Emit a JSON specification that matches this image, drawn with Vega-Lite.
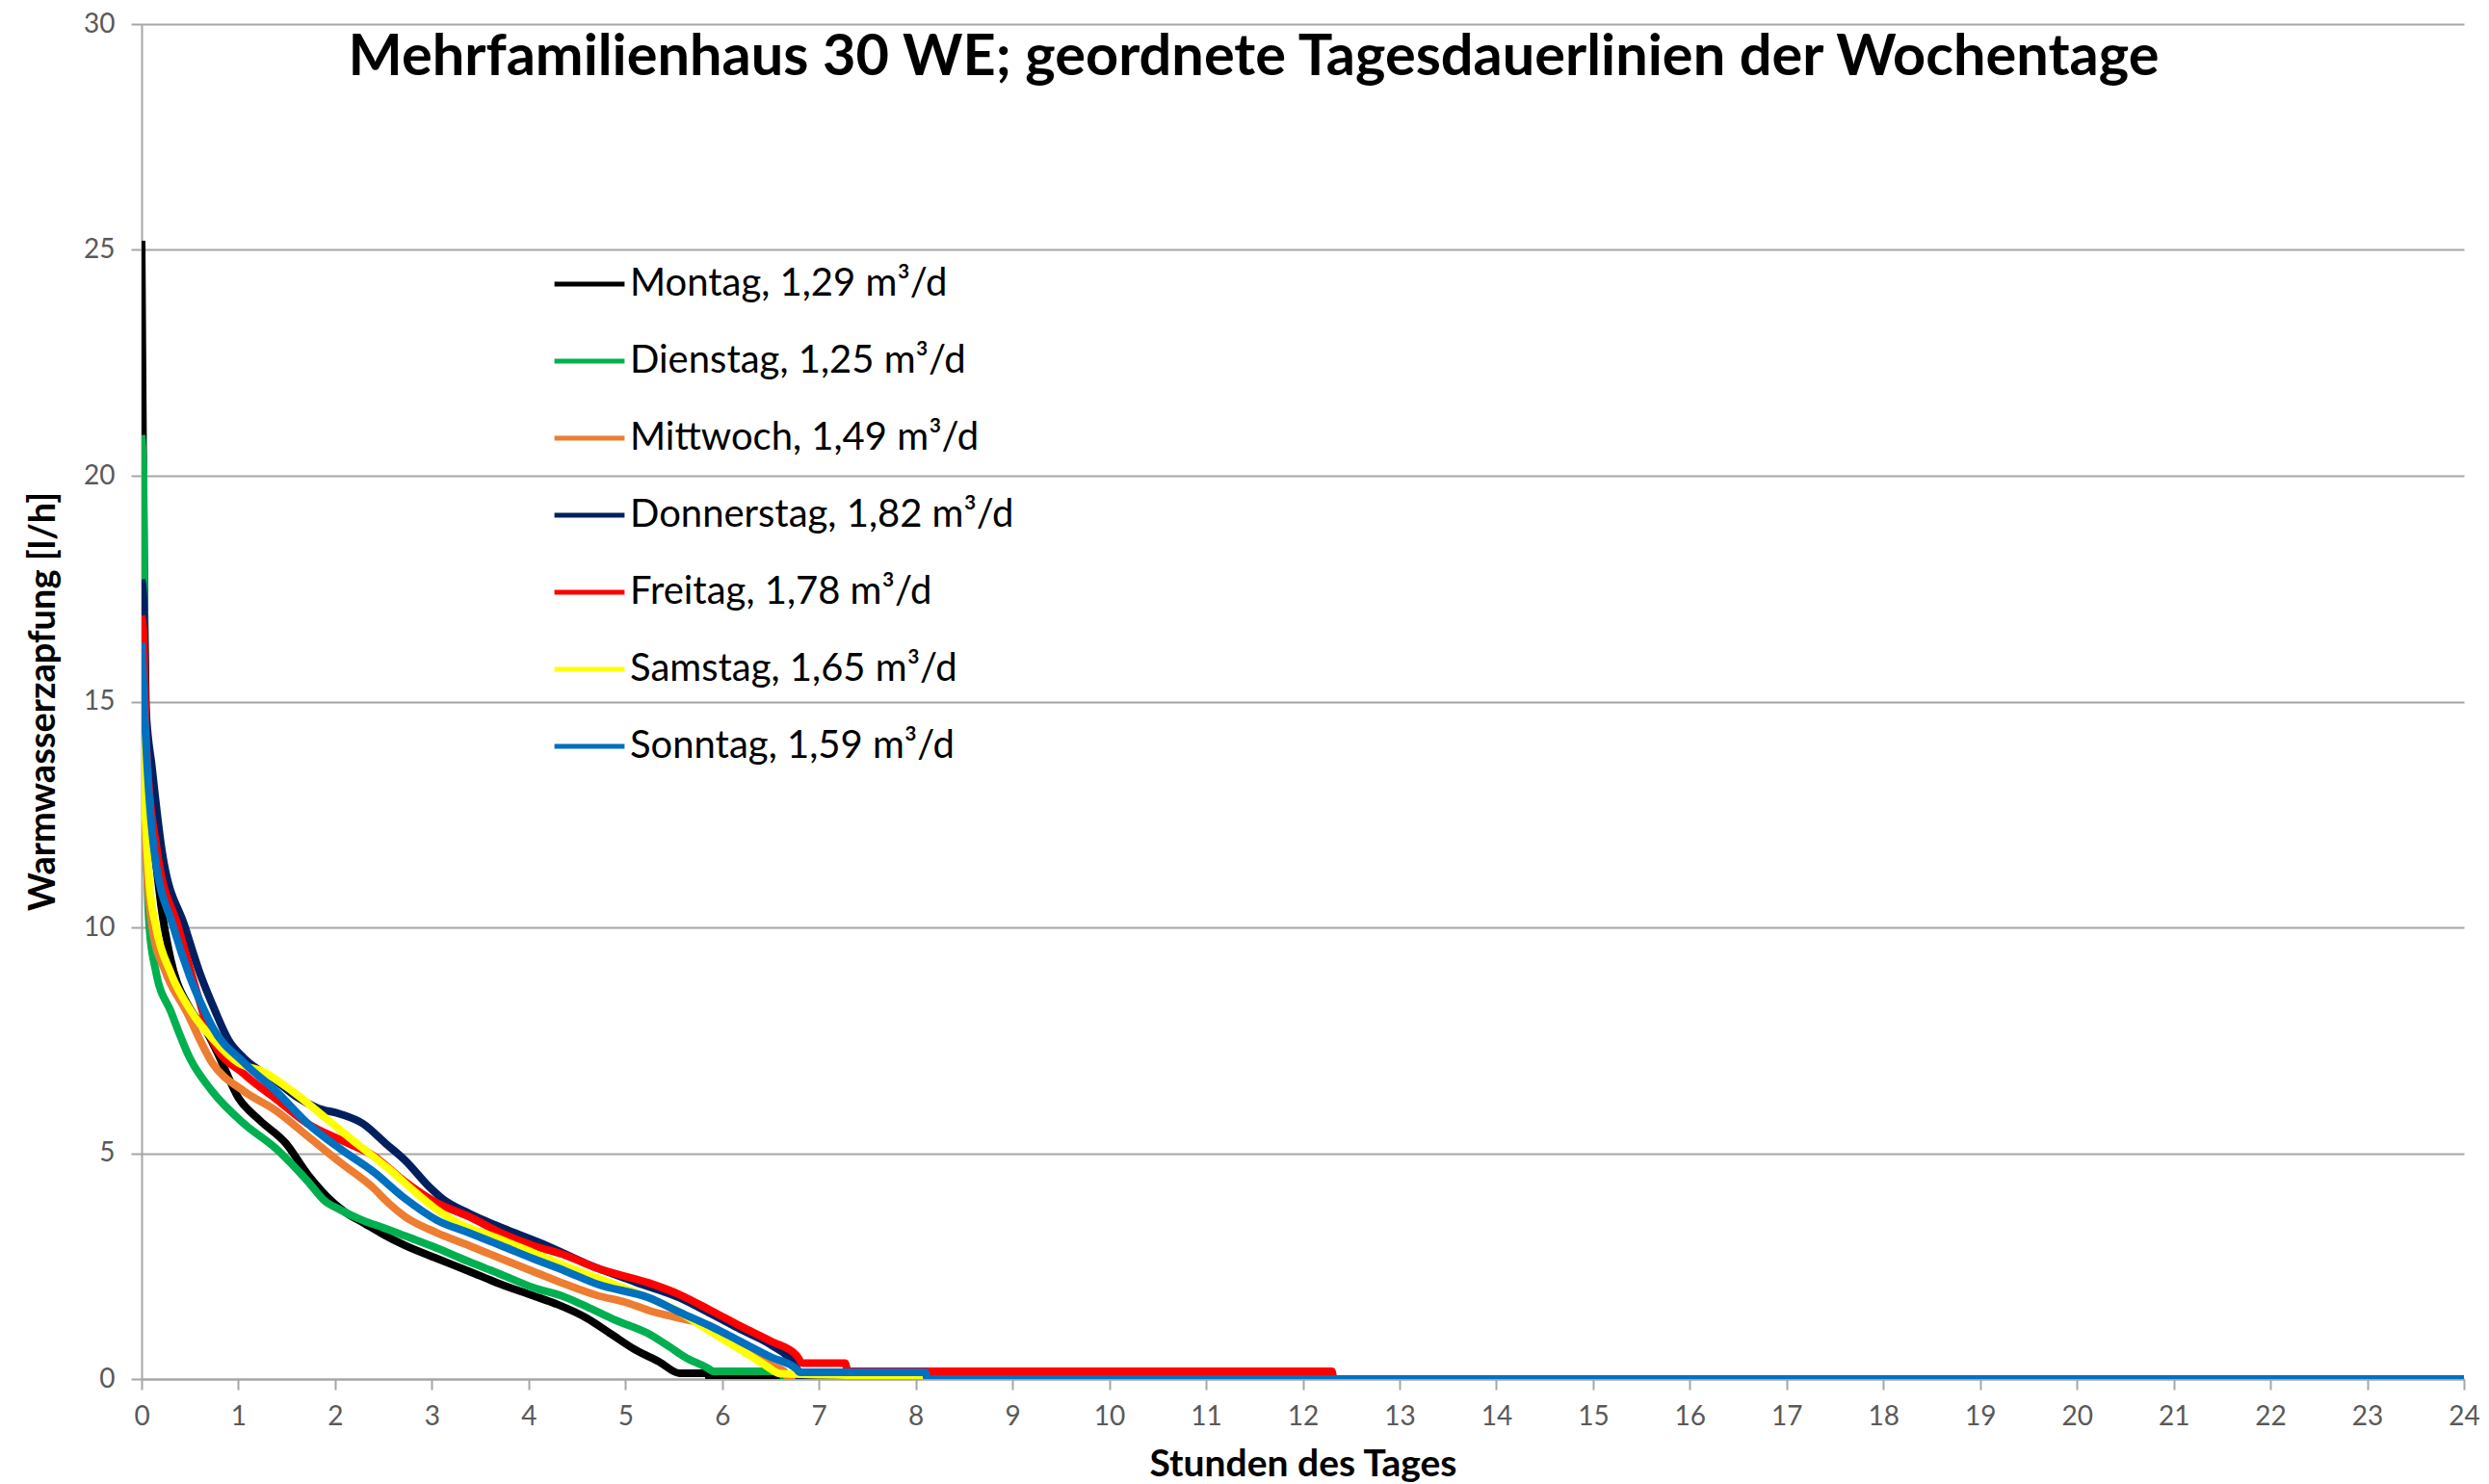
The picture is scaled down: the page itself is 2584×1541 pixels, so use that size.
{
  "$schema": "https://vega.github.io/schema/vega-lite/v6.json",
  "width": 2411,
  "height": 1407,
  "autosize": {"type": "none"},
  "padding": {"left": 147, "top": 25, "right": 26, "bottom": 109},
  "background": "white",
  "config": {
    "view": {"stroke": null},
    "font": "Lato"
  },
  "data": {
    "values": [
      {"t":"Montag","h":0,"v":25.2},{"t":"Montag","h":0.015,"v":20.6},{"t":"Montag","h":0.03,"v":17},{"t":"Montag","h":0.05,"v":14},{"t":"Montag","h":0.1,"v":12.5},{"t":"Montag","h":0.2,"v":10.5},{"t":"Montag","h":0.3,"v":9.3},{"t":"Montag","h":0.5,"v":8.2},{"t":"Montag","h":0.67,"v":7.7},{"t":"Montag","h":0.8,"v":7.15},{"t":"Montag","h":1.0,"v":6.23},{"t":"Montag","h":1.22,"v":5.73},{"t":"Montag","h":1.49,"v":5.22},{"t":"Montag","h":1.72,"v":4.52},{"t":"Montag","h":1.92,"v":4.03},{"t":"Montag","h":2.1,"v":3.7},{"t":"Montag","h":2.3,"v":3.45},{"t":"Montag","h":2.5,"v":3.2},{"t":"Montag","h":2.72,"v":2.96},{"t":"Montag","h":3.05,"v":2.67},{"t":"Montag","h":3.38,"v":2.39},{"t":"Montag","h":3.71,"v":2.1},{"t":"Montag","h":4.04,"v":1.85},{"t":"Montag","h":4.3,"v":1.65},{"t":"Montag","h":4.6,"v":1.35},{"t":"Montag","h":4.85,"v":1.0},{"t":"Montag","h":5.1,"v":0.65},{"t":"Montag","h":5.35,"v":0.38},{"t":"Montag","h":5.56,"v":0.13},{"t":"Montag","h":5.85,"v":0.13},{"t":"Montag","h":5.87,"v":0},{"t":"Montag","h":24,"v":0},

      {"t":"Dienstag","h":0,"v":20.9},{"t":"Dienstag","h":0.02,"v":20},{"t":"Dienstag","h":0.03,"v":16},{"t":"Dienstag","h":0.05,"v":12},{"t":"Dienstag","h":0.08,"v":10},{"t":"Dienstag","h":0.15,"v":9.0},{"t":"Dienstag","h":0.3,"v":8.15},{"t":"Dienstag","h":0.5,"v":7.1},{"t":"Dienstag","h":0.73,"v":6.37},{"t":"Dienstag","h":1.06,"v":5.65},{"t":"Dienstag","h":1.39,"v":5.1},{"t":"Dienstag","h":1.72,"v":4.37},{"t":"Dienstag","h":1.89,"v":3.95},{"t":"Dienstag","h":2.05,"v":3.75},{"t":"Dienstag","h":2.3,"v":3.5},{"t":"Dienstag","h":2.5,"v":3.35},{"t":"Dienstag","h":2.72,"v":3.17},{"t":"Dienstag","h":3.05,"v":2.9},{"t":"Dienstag","h":3.38,"v":2.6},{"t":"Dienstag","h":3.71,"v":2.32},{"t":"Dienstag","h":4.04,"v":2.03},{"t":"Dienstag","h":4.38,"v":1.81},{"t":"Dienstag","h":4.6,"v":1.6},{"t":"Dienstag","h":4.9,"v":1.3},{"t":"Dienstag","h":5.24,"v":1.0},{"t":"Dienstag","h":5.45,"v":0.72},{"t":"Dienstag","h":5.62,"v":0.48},{"t":"Dienstag","h":5.88,"v":0.2},{"t":"Dienstag","h":5.9,"v":0.17},{"t":"Dienstag","h":6.6,"v":0.17},{"t":"Dienstag","h":6.65,"v":0},{"t":"Dienstag","h":24,"v":0},

      {"t":"Mittwoch","h":0,"v":16},{"t":"Mittwoch","h":0.02,"v":14},{"t":"Mittwoch","h":0.05,"v":11.5},{"t":"Mittwoch","h":0.11,"v":10},{"t":"Mittwoch","h":0.25,"v":9},{"t":"Mittwoch","h":0.46,"v":8.15},{"t":"Mittwoch","h":0.73,"v":7.0},{"t":"Mittwoch","h":1.06,"v":6.37},{"t":"Mittwoch","h":1.39,"v":5.94},{"t":"Mittwoch","h":1.72,"v":5.37},{"t":"Mittwoch","h":2.05,"v":4.8},{"t":"Mittwoch","h":2.39,"v":4.24},{"t":"Mittwoch","h":2.55,"v":3.9},{"t":"Mittwoch","h":2.72,"v":3.6},{"t":"Mittwoch","h":3.05,"v":3.24},{"t":"Mittwoch","h":3.38,"v":2.96},{"t":"Mittwoch","h":3.71,"v":2.67},{"t":"Mittwoch","h":4.04,"v":2.39},{"t":"Mittwoch","h":4.38,"v":2.1},{"t":"Mittwoch","h":4.71,"v":1.85},{"t":"Mittwoch","h":5.0,"v":1.7},{"t":"Mittwoch","h":5.24,"v":1.52},{"t":"Mittwoch","h":5.55,"v":1.35},{"t":"Mittwoch","h":5.88,"v":1.17},{"t":"Mittwoch","h":6.19,"v":0.74},{"t":"Mittwoch","h":6.51,"v":0.3},{"t":"Mittwoch","h":6.64,"v":0.17},{"t":"Mittwoch","h":6.7,"v":0},{"t":"Mittwoch","h":24,"v":0},

      {"t":"Donnerstag","h":0,"v":17.7},{"t":"Donnerstag","h":0.02,"v":17.3},{"t":"Donnerstag","h":0.04,"v":15},{"t":"Donnerstag","h":0.11,"v":13.5},{"t":"Donnerstag","h":0.21,"v":11.7},{"t":"Donnerstag","h":0.45,"v":10},{"t":"Donnerstag","h":0.6,"v":9.0},{"t":"Donnerstag","h":0.75,"v":8.2},{"t":"Donnerstag","h":0.9,"v":7.5},{"t":"Donnerstag","h":1.06,"v":7.1},{"t":"Donnerstag","h":1.39,"v":6.6},{"t":"Donnerstag","h":1.6,"v":6.25},{"t":"Donnerstag","h":1.82,"v":6.0},{"t":"Donnerstag","h":2.05,"v":5.87},{"t":"Donnerstag","h":2.29,"v":5.65},{"t":"Donnerstag","h":2.52,"v":5.22},{"t":"Donnerstag","h":2.72,"v":4.85},{"t":"Donnerstag","h":2.98,"v":4.24},{"t":"Donnerstag","h":3.11,"v":3.99},{"t":"Donnerstag","h":3.38,"v":3.67},{"t":"Donnerstag","h":3.78,"v":3.3},{"t":"Donnerstag","h":4.18,"v":2.96},{"t":"Donnerstag","h":4.6,"v":2.55},{"t":"Donnerstag","h":5.1,"v":2.15},{"t":"Donnerstag","h":5.56,"v":1.8},{"t":"Donnerstag","h":5.88,"v":1.45},{"t":"Donnerstag","h":6.19,"v":1.1},{"t":"Donnerstag","h":6.51,"v":0.75},{"t":"Donnerstag","h":6.72,"v":0.4},{"t":"Donnerstag","h":6.78,"v":0.2},{"t":"Donnerstag","h":6.8,"v":0},{"t":"Donnerstag","h":24,"v":0},

      {"t":"Freitag","h":0,"v":16.9},{"t":"Freitag","h":0.02,"v":16.5},{"t":"Freitag","h":0.05,"v":14},{"t":"Freitag","h":0.16,"v":11.7},{"t":"Freitag","h":0.38,"v":10},{"t":"Freitag","h":0.58,"v":8.5},{"t":"Freitag","h":0.73,"v":7.5},{"t":"Freitag","h":1.06,"v":6.75},{"t":"Freitag","h":1.39,"v":6.2},{"t":"Freitag","h":1.72,"v":5.65},{"t":"Freitag","h":2.05,"v":5.3},{"t":"Freitag","h":2.39,"v":4.95},{"t":"Freitag","h":2.72,"v":4.37},{"t":"Freitag","h":3.05,"v":3.9},{"t":"Freitag","h":3.38,"v":3.6},{"t":"Freitag","h":3.71,"v":3.24},{"t":"Freitag","h":4.04,"v":2.96},{"t":"Freitag","h":4.38,"v":2.74},{"t":"Freitag","h":4.71,"v":2.45},{"t":"Freitag","h":5.24,"v":2.13},{"t":"Freitag","h":5.56,"v":1.87},{"t":"Freitag","h":5.88,"v":1.52},{"t":"Freitag","h":6.19,"v":1.17},{"t":"Freitag","h":6.51,"v":0.83},{"t":"Freitag","h":6.77,"v":0.52},{"t":"Freitag","h":6.83,"v":0.35},{"t":"Freitag","h":7.27,"v":0.35},{"t":"Freitag","h":7.3,"v":0.17},{"t":"Freitag","h":12.3,"v":0.17},{"t":"Freitag","h":12.32,"v":0},{"t":"Freitag","h":24,"v":0},

      {"t":"Samstag","h":0,"v":15.5},{"t":"Samstag","h":0.03,"v":13},{"t":"Samstag","h":0.08,"v":11},{"t":"Samstag","h":0.15,"v":10},{"t":"Samstag","h":0.3,"v":9},{"t":"Samstag","h":0.51,"v":8.15},{"t":"Samstag","h":0.75,"v":7.5},{"t":"Samstag","h":1.0,"v":7.0},{"t":"Samstag","h":1.26,"v":6.8},{"t":"Samstag","h":1.56,"v":6.37},{"t":"Samstag","h":1.89,"v":5.8},{"t":"Samstag","h":2.22,"v":5.22},{"t":"Samstag","h":2.55,"v":4.66},{"t":"Samstag","h":2.85,"v":4.1},{"t":"Samstag","h":3.05,"v":3.75},{"t":"Samstag","h":3.28,"v":3.45},{"t":"Samstag","h":3.7,"v":3.1},{"t":"Samstag","h":4.04,"v":2.8},{"t":"Samstag","h":4.5,"v":2.4},{"t":"Samstag","h":5.0,"v":2.0},{"t":"Samstag","h":5.5,"v":1.55},{"t":"Samstag","h":5.88,"v":1.05},{"t":"Samstag","h":6.19,"v":0.65},{"t":"Samstag","h":6.45,"v":0.3},{"t":"Samstag","h":6.6,"v":0.12},{"t":"Samstag","h":8.0,"v":0.05},{"t":"Samstag","h":8.02,"v":0},{"t":"Samstag","h":24,"v":0},

      {"t":"Sonntag","h":0,"v":16.3},{"t":"Sonntag","h":0.06,"v":13.5},{"t":"Sonntag","h":0.13,"v":11.7},{"t":"Sonntag","h":0.33,"v":10},{"t":"Sonntag","h":0.5,"v":8.9},{"t":"Sonntag","h":0.65,"v":8.15},{"t":"Sonntag","h":0.73,"v":7.8},{"t":"Sonntag","h":1.06,"v":7.0},{"t":"Sonntag","h":1.39,"v":6.37},{"t":"Sonntag","h":1.72,"v":5.65},{"t":"Sonntag","h":2.05,"v":5.1},{"t":"Sonntag","h":2.39,"v":4.6},{"t":"Sonntag","h":2.72,"v":4.0},{"t":"Sonntag","h":3.05,"v":3.52},{"t":"Sonntag","h":3.38,"v":3.24},{"t":"Sonntag","h":3.71,"v":2.96},{"t":"Sonntag","h":4.04,"v":2.67},{"t":"Sonntag","h":4.38,"v":2.39},{"t":"Sonntag","h":4.71,"v":2.1},{"t":"Sonntag","h":5.24,"v":1.8},{"t":"Sonntag","h":5.56,"v":1.48},{"t":"Sonntag","h":5.88,"v":1.17},{"t":"Sonntag","h":6.19,"v":0.83},{"t":"Sonntag","h":6.51,"v":0.48},{"t":"Sonntag","h":6.77,"v":0.22},{"t":"Sonntag","h":6.8,"v":0.15},{"t":"Sonntag","h":8.1,"v":0.15},{"t":"Sonntag","h":8.12,"v":0},{"t":"Sonntag","h":24,"v":0}
    ]
  },
  "resolve": {"axis": {"x": "independent"}},
  "layer": [
    {
      "mark": {"type": "line", "strokeWidth": 8, "interpolate": "monotone", "clip": true},
      "encoding": {
        "x": {
          "field": "h",
          "type": "quantitative",
          "scale": {"domain": [0, 24], "nice": false, "zero": true},
          "axis": {
            "title": "Stunden des Tages",
            "orient": "bottom",
            "values": [0,1,2,3,4,5,6,7,8,9,10,11,12,13,14,15,16,17,18,19,20,21,22,23,24],
            "format": "d",
            "grid": false,
            "domainColor": "#a6a6a6",
            "domainWidth": 2,
            "tickColor": "#a6a6a6",
            "tickWidth": 2,
            "tickSize": 11,
            "labelFont": "Lato",
            "labelFontSize": 28,
            "labelColor": "#595959",
            "labelPadding": 14,
            "labelFlush": false,
            "labelOverlap": false,
            "titleFont": "Lato",
            "titleFontSize": 39,
            "titleFontWeight": "bold",
            "titleColor": "#000000",
            "titleBaseline": "middle",
            "titleY": 88
          }
        },
        "y": {
          "field": "v",
          "type": "quantitative",
          "scale": {"domain": [0, 30], "nice": false},
          "axis": {
            "title": "Warmwasserzapfung [l/h]",
            "values": [0,5,10,15,20,25,30],
            "grid": true,
            "gridColor": "#a6a6a6",
            "gridWidth": 2,
            "domainColor": "#a6a6a6",
            "domainWidth": 2,
            "tickColor": "#a6a6a6",
            "tickWidth": 2,
            "tickSize": 11,
            "labelFont": "Lato",
            "labelFontSize": 28,
            "labelColor": "#595959",
            "labelPadding": 17,
            "labelFlush": false,
            "titleFont": "Lato",
            "titleFontSize": 38,
            "titleFontWeight": "bold",
            "titleColor": "#000000",
            "titleBaseline": "middle",
            "titleX": -102,
            "titleY": 703
          }
        },
        "color": {
          "field": "t",
          "type": "nominal",
          "scale": {
            "domain": ["Montag","Dienstag","Mittwoch","Donnerstag","Freitag","Samstag","Sonntag"],
            "range": ["#000000","#00B050","#ED7D31","#002060","#FF0000","#FFFF00","#0070C0"]
          },
          "legend": {
            "title": null,
            "orient": "none",
            "legendX": 426,
            "legendY": 231,
            "padding": 0,
            "symbolType": "stroke",
            "symbolStrokeWidth": 5,
            "symbolSize": 5300,
            "labelFont": "Lato",
            "labelFontSize": 40,
            "labelColor": "#000000",
            "labelOffset": 3,
            "rowPadding": 21,
            "labelLimit": 700,
            "labelExpr": "{'Montag':'Montag, 1,29 m³/d','Dienstag':'Dienstag, 1,25 m³/d','Mittwoch':'Mittwoch, 1,49 m³/d','Donnerstag':'Donnerstag, 1,82 m³/d','Freitag':'Freitag, 1,78 m³/d','Samstag':'Samstag, 1,65 m³/d','Sonntag':'Sonntag, 1,59 m³/d'}[datum.label]"
          }
        }
      }
    },
    {
      "mark": {"type": "point", "opacity": 0},
      "encoding": {
        "x": {
          "field": "h",
          "type": "quantitative",
          "axis": {
            "orient": "top",
            "title": "Mehrfamilienhaus  30 WE; geordnete Tagesdauerlinien  der Wochentage",
            "domain": false,
            "ticks": false,
            "labels": false,
            "grid": false,
            "titleFont": "Lato",
            "titleFontSize": 59.5,
            "titleFontWeight": "bold",
            "titleColor": "#000000",
            "titleAlign": "center",
            "titleBaseline": "alphabetic",
            "titleX": 1154,
            "titleY": 52
          }
        },
        "y": {"field": "v", "type": "quantitative"}
      }
    }
  ]
}
